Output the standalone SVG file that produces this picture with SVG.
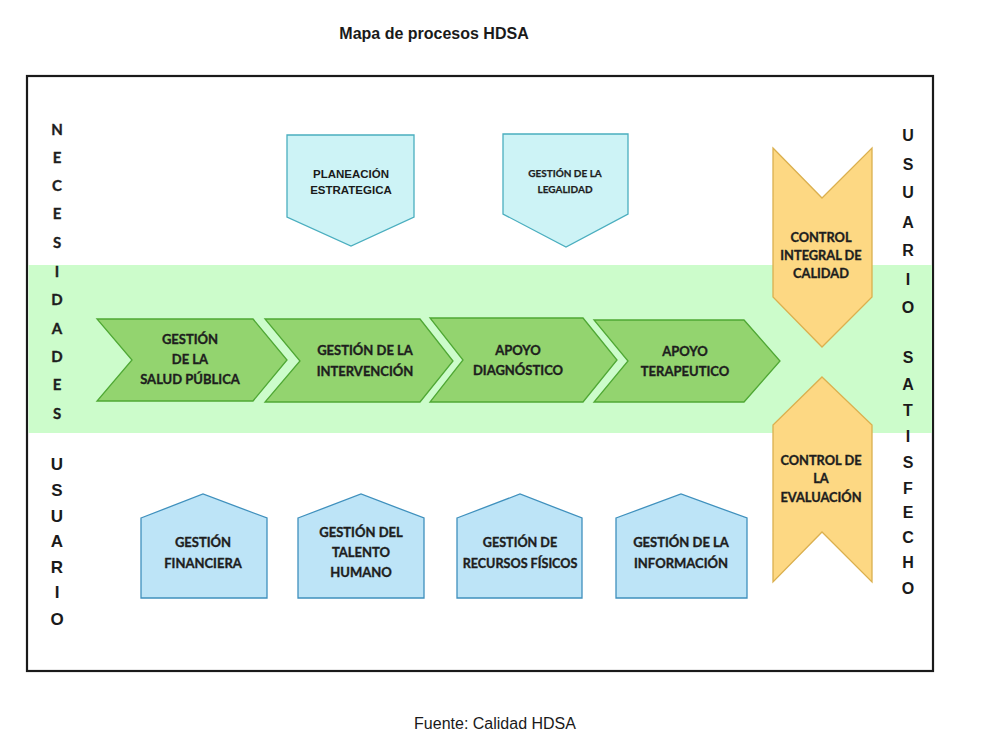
<svg xmlns="http://www.w3.org/2000/svg" width="991" height="751" viewBox="0 0 991 751">
<style>
.t{font-family:Lato,"Open Sans","Liberation Sans",sans-serif;font-weight:bold;fill:#1e1e1e;stroke:#1e1e1e;stroke-width:0.35;text-anchor:middle}
.a{font-family:"Liberation Sans",Arial,sans-serif;font-weight:bold;fill:#1a1a1a;text-anchor:middle}
.chev{fill:#93d46f;stroke:#4fa834;stroke-width:1.3}
.top{fill:#cdf3f6;stroke:#4aaebf;stroke-width:1.3}
.bot{fill:#bde4f7;stroke:#3f90bd;stroke-width:1.3}
.yel{fill:#fdd883;stroke:#dbb04f;stroke-width:1.3}
</style>
<rect width="991" height="751" fill="#ffffff"/>
<text class="a" x="434" y="39" font-size="16">Mapa de procesos HDSA</text>
<rect x="27" y="76" width="906" height="595" fill="#ffffff" stroke="#1a1a1a" stroke-width="2.2"/>
<rect x="28.5" y="265" width="903.5" height="168" fill="#ccfccb"/>

<g id="side-left">
<text class="t" font-size="15"><tspan x="57" y="135">N</tspan><tspan x="57" y="163">E</tspan><tspan x="57" y="191">C</tspan><tspan x="57" y="219">E</tspan><tspan x="57" y="248">S</tspan><tspan x="57" y="277">I</tspan><tspan x="57" y="305">D</tspan><tspan x="57" y="334">A</tspan><tspan x="57" y="362">D</tspan><tspan x="57" y="390">E</tspan><tspan x="57" y="419">S</tspan></text>
<text class="a" font-size="17"><tspan x="57" y="470">U</tspan><tspan x="57" y="496">S</tspan><tspan x="57" y="522">U</tspan><tspan x="57" y="547">A</tspan><tspan x="57" y="573">R</tspan><tspan x="57" y="598">I</tspan><tspan x="57" y="625">O</tspan></text>
</g>

<g id="side-right">
<text class="a" font-size="16"><tspan x="908" y="141">U</tspan><tspan x="908" y="170">S</tspan><tspan x="908" y="198">U</tspan><tspan x="908" y="228">A</tspan><tspan x="908" y="256">R</tspan><tspan x="908" y="285">I</tspan><tspan x="908" y="313">O</tspan><tspan x="908" y="363">S</tspan><tspan x="908" y="390">A</tspan><tspan x="908" y="416">T</tspan><tspan x="908" y="442">I</tspan><tspan x="908" y="468">S</tspan><tspan x="908" y="494">F</tspan><tspan x="908" y="518">E</tspan><tspan x="908" y="543">C</tspan><tspan x="908" y="568">H</tspan><tspan x="908" y="594">O</tspan></text>
</g>

<g id="planeacion">
<polygon class="top" points="287,135 414,135 414,217 351,246 287,217"/>
<text class="a" font-size="11.5"><tspan x="351" y="178">PLANEACIÓN</tspan><tspan x="351" y="194">ESTRATEGICA</tspan></text>
</g>
<g id="legalidad">
<polygon class="top" points="503,134 628,134 628,214 566,247 503,214"/>
<text class="t" font-size="10" style="stroke-width:0.25"><tspan x="565" y="177">GESTIÓN DE LA</tspan><tspan x="565" y="193">LEGALIDAD</tspan></text>
</g>

<g id="salud-publica">
<polygon class="chev" points="97,319 253,319 287,360 253,401 97,401 132,360"/>
<text class="t" font-size="13"><tspan x="190" y="344">GESTIÓN</tspan><tspan x="190" y="364">DE LA</tspan><tspan x="190" y="384">SALUD PÚBLICA</tspan></text>
</g>
<g id="intervencion">
<polygon class="chev" points="265,319 420,319 453,361 420,402 265,402 300,361"/>
<text class="t" font-size="13"><tspan x="365" y="355">GESTIÓN DE LA</tspan><tspan x="365" y="376">INTERVENCIÓN</tspan></text>
</g>
<g id="diagnostico">
<polygon class="chev" points="430,318 583,318 617,360 583,402 430,402 463,360"/>
<text class="t" font-size="13"><tspan x="518" y="355">APOYO</tspan><tspan x="518" y="375">DIAGNÓSTICO</tspan></text>
</g>
<g id="terapeutico">
<polygon class="chev" points="594,320 744,320 780,361 744,402 594,402 628,361"/>
<text class="t" font-size="13"><tspan x="685" y="356">APOYO</tspan><tspan x="685" y="376">TERAPEUTICO</tspan></text>
</g>

<g id="control-integral">
<polygon class="yel" points="773,148 822,198 872,148 872,297 822,347 773,297"/>
<text class="t" font-size="12.8"><tspan x="821" y="242">CONTROL</tspan><tspan x="821" y="260">INTEGRAL DE</tspan><tspan x="821" y="278">CALIDAD</tspan></text>
</g>
<g id="control-evaluacion">
<polygon class="yel" points="822,377 872,425 872,582 822,532 773,582 773,425"/>
<text class="t" font-size="12.8"><tspan x="821" y="465">CONTROL DE</tspan><tspan x="821" y="483">LA</tspan><tspan x="821" y="502">EVALUACIÓN</tspan></text>
</g>

<g id="financiera">
<polygon class="bot" points="141,518 203,494 267,518 267,598 141,598"/>
<text class="t" font-size="13"><tspan x="203" y="547">GESTIÓN</tspan><tspan x="203" y="568">FINANCIERA</tspan></text>
</g>
<g id="talento-humano">
<polygon class="bot" points="298,518 361,494 424,518 424,598 298,598"/>
<text class="t" font-size="13"><tspan x="361" y="537">GESTIÓN DEL</tspan><tspan x="361" y="557">TALENTO</tspan><tspan x="361" y="577">HUMANO</tspan></text>
</g>
<g id="recursos-fisicos">
<polygon class="bot" points="457,518 520,494 582,518 582,598 457,598"/>
<text class="t" font-size="12.6"><tspan x="520" y="547">GESTIÓN DE</tspan><tspan x="520" y="568">RECURSOS FÍSICOS</tspan></text>
</g>
<g id="informacion">
<polygon class="bot" points="616,518 681,494 747,518 747,598 616,598"/>
<text class="t" font-size="13"><tspan x="681" y="547">GESTIÓN DE LA</tspan><tspan x="681" y="568">INFORMACIÓN</tspan></text>
</g>

<g id="connectors"></g>

<text x="495" y="729" font-family="Liberation Sans,Arial,sans-serif" font-size="16" fill="#1a1a1a" text-anchor="middle">Fuente: Calidad HDSA</text>
</svg>
